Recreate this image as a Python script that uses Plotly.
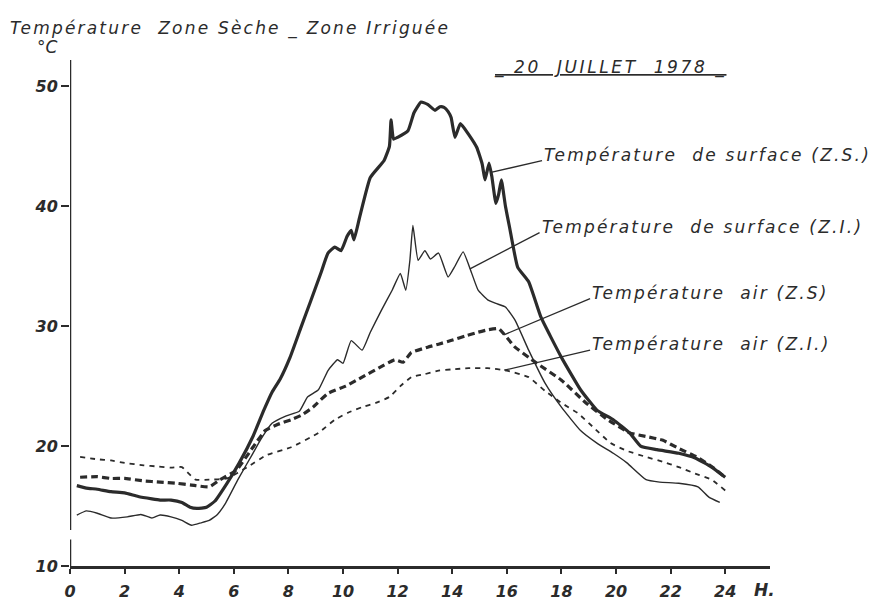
import numpy as np
import plotly.graph_objects as go

# --- data ---
hours_surf_zs = [0.25, 0.6, 1.0, 1.5, 2.0, 2.5, 3.0, 3.3, 3.7, 4.1, 4.4, 4.65, 5.0, 5.3, 5.75, 6.2,
                 6.7, 7.1, 7.4, 7.7, 8.06, 8.46, 8.8, 9.2, 9.45, 9.7, 9.93, 10.15, 10.3, 10.4, 10.6,
                 11.0, 11.5, 11.7, 11.76, 11.85, 12.0, 12.38, 12.6, 12.86, 13.1, 13.37, 13.55, 13.7,
                 13.85, 13.96, 14.1, 14.3, 14.6, 14.9, 15.1, 15.2, 15.35, 15.45, 15.6, 15.7, 15.8,
                 15.95, 16.1, 16.4, 16.8, 17.25, 18.0, 18.7, 19.3, 19.9, 20.5, 20.9, 21.5, 22.3,
                 22.9, 23.5, 24.0]
temp_surf_zs = [16.7, 16.5, 16.4, 16.2, 16.1, 15.8, 15.6, 15.5, 15.5, 15.3, 14.9, 14.8, 14.9, 15.4,
                16.9, 18.6, 20.8, 23.0, 24.5, 25.6, 27.4, 29.9, 32.0, 34.5, 36.1, 36.6, 36.3, 37.5,
                38.0, 37.2, 39.0, 42.4, 43.8, 45.0, 47.2, 45.6, 45.75, 46.3, 47.8, 48.7, 48.5,
                48.0, 48.3, 48.25, 47.9, 47.4, 45.75, 46.9, 46.0, 44.9, 43.5, 42.2, 43.6, 42.5,
                40.25, 41.0, 42.2, 40.0, 38.25, 34.9, 33.7, 30.75, 27.4, 24.7, 23.0, 22.2, 21.1,
                20.0, 19.7, 19.4, 19.0, 18.25, 17.4]

hours_surf_zi = [0.25, 0.6, 1.0, 1.5, 2.1, 2.6, 3.0, 3.3, 3.7, 4.1, 4.45, 4.8, 5.1, 5.4, 5.7, 6.15,
                 6.7, 7.0, 7.4, 7.9, 8.4, 8.7, 9.1, 9.45, 9.8, 10.0, 10.3, 10.7, 11.0, 11.4, 11.8,
                 12.1, 12.3, 12.45, 12.56, 12.75, 13.0, 13.2, 13.5, 13.85, 14.1, 14.4, 14.7, 14.95,
                 15.3, 15.6, 15.95, 16.3, 16.8, 17.4, 18.0, 18.7, 19.3, 19.9, 20.4, 21.1, 21.6,
                 22.3, 23.0, 23.4, 23.8]
temp_surf_zi = [14.25, 14.6, 14.4, 14.0, 14.1, 14.3, 14.0, 14.25, 14.1, 13.8, 13.4, 13.6, 13.8,
                14.3, 15.25, 17.2, 19.4, 20.6, 21.9, 22.5, 22.9, 24.1, 24.7, 26.3, 27.2, 26.9,
                28.8, 28.0, 29.5, 31.3, 33.0, 34.4, 33.0, 35.5, 38.4, 35.5, 36.3, 35.6, 36.1,
                34.1, 35.0, 36.2, 34.5, 33.0, 32.2, 31.9, 31.6, 30.5, 28.0, 25.25, 23.25, 21.3,
                20.25, 19.4, 18.6, 17.2, 17.0, 16.9, 16.6, 15.75, 15.3]

hours_air_zs = [0.37, 1.0, 1.5, 2.0, 2.7, 3.3, 3.9, 4.45, 5.1, 5.5, 6.1, 6.7, 7.15, 7.6, 8.1, 8.5,
                8.9, 9.45, 10.1, 10.7, 11.3, 11.9, 12.2, 12.5, 13.1, 13.5, 13.95, 14.5, 14.95,
                15.3, 15.7, 16.3, 16.8, 17.1, 18.0, 18.9, 19.7, 20.5, 21.1, 21.7, 22.3, 22.95,
                23.5, 24.0]
temp_air_zs = [17.4, 17.45, 17.3, 17.3, 17.1, 17.0, 16.9, 16.75, 16.6, 17.2, 18.0, 19.9, 21.3,
               21.8, 22.2, 22.6, 23.25, 24.4, 25.0, 25.75, 26.5, 27.2, 27.0, 27.8, 28.25, 28.5,
               28.8, 29.2, 29.5, 29.7, 29.8, 28.25, 27.4, 26.9, 25.5, 23.6, 22.2, 21.1, 20.8,
               20.5, 19.8, 19.1, 18.3, 17.4]

hours_air_zi = [0.37, 1.0, 1.5, 2.0, 2.7, 3.2, 3.7, 4.1, 4.35, 4.6, 5.1, 5.75, 6.5, 7.2, 8.1, 9.1,
                9.7, 10.2, 10.7, 11.2, 11.7, 12.1, 12.5, 13.0, 13.5, 14.0, 14.6, 15.3, 16.0, 16.8,
                17.4, 18.0, 18.6, 19.2, 19.8, 20.4, 21.1, 21.7, 22.3, 22.9, 23.5, 24.0]
temp_air_zi = [19.1, 18.9, 18.8, 18.6, 18.4, 18.3, 18.2, 18.25, 17.7, 17.2, 17.2, 17.3, 18.25,
               19.25, 19.9, 21.1, 22.2, 22.8, 23.25, 23.6, 24.1, 25.0, 25.75, 26.0, 26.3, 26.4,
               26.5, 26.5, 26.3, 25.75, 24.6, 23.6, 22.75, 21.5, 20.25, 19.6, 19.1, 18.7, 18.25,
               17.7, 17.2, 16.3]

x_ticks = list(range(0, 25, 2))
y_ticks = [10, 20, 30, 40, 50]

INK = '#2b2b2b'
FONT = 'DejaVu Sans'


def spaced(txt, px):
    # hand lettering on the original is widely spaced
    return f'<span style="letter-spacing:{px}px">{txt}</span>'


series = [
    # hours, temps, label, width, dash, leader start hour, leader end (h, T)
    (hours_surf_zs, temp_surf_zs, 'Température  de surface (Z.S.)', 3.2, 'solid', 15.42, (17.29, 43.8)),
    (hours_surf_zi, temp_surf_zi, 'Température  de surface (Z.I.)', 1.4, 'solid', 14.65, (17.2, 37.8)),
    (hours_air_zs, temp_air_zs, 'Température  air (Z.S)', 3.2, '7px,4px', 15.9, (19.05, 32.3)),
    (hours_air_zi, temp_air_zi, 'Température  air (Z.I.)', 1.8, '5px,5px', 15.9, (19.05, 28.0)),
]

fig = go.Figure()
shapes = []
annotations = []
for hrs, temps, label, w, dash, h0, (h1, t1) in series:
    fig.add_trace(go.Scatter(x=hrs, y=temps, mode='lines', name=label,
                             line=dict(color=INK, width=w, dash=dash, shape='spline', smoothing=0.4),
                             showlegend=False))
    t0 = float(np.interp(h0, hrs, temps))
    shapes.append(dict(type='line', xref='x', yref='y', x0=h0, y0=t0, x1=h1, y1=t1,
                       line=dict(color=INK, width=1.3)))
    annotations.append(dict(x=h1, y=t1, xref='x', yref='y', text=spaced(label, 2.2), showarrow=False,
                            xanchor='left', yanchor='middle', xshift=0, yshift=6,
                            font=dict(family=FONT, size=17, color=INK, style='italic')))

# y axis drawn by hand, broken just above 10
shapes.append(dict(type='line', xref='x', yref='y', x0=0, x1=0, y0=10, y1=12.2,
                   line=dict(color=INK, width=2.5)))
shapes.append(dict(type='line', xref='x', yref='y', x0=0, x1=0, y0=13.0, y1=52.2,
                   line=dict(color=INK, width=2.5)))

annotations += [
    dict(x=0, y=1.0, xref='paper', yref='paper', xshift=-62, yshift=32, showarrow=False,
         xanchor='left', yanchor='middle', text=spaced('Température  Zone Sèche _ Zone Irriguée', 2.2),
         font=dict(family=FONT, size=17, color=INK, style='italic')),
    dict(x=0, y=1.0, xref='paper', yref='paper', xshift=-35, yshift=13, showarrow=False,
         xanchor='left', yanchor='middle', text='°C',
         font=dict(family=FONT, size=17, color=INK, style='italic')),
    dict(x=15.46, y=1.0, xref='x', yref='paper', yshift=-7, showarrow=False,
         xanchor='left', yanchor='middle', text='<u>' + spaced('_ 20  JUILLET  1978 _', 2.6) + '</u>',
         font=dict(family=FONT, size=17, color=INK, style='italic')),
    dict(x=25.45, y=10, xref='x', yref='y', yshift=-24, showarrow=False,
         xanchor='center', yanchor='middle', text='H.',
         font=dict(family=FONT, size=17, color=INK, style='italic', weight='bold')),
]

fig.update_layout(
    width=875, height=599,
    margin=dict(l=62, r=113, t=52, b=41),
    paper_bgcolor='white', plot_bgcolor='white',
    font=dict(family=FONT, color=INK),
    shapes=shapes, annotations=annotations,
    xaxis=dict(range=[0, 25.64], tickvals=x_ticks, ticks='outside', ticklen=5, tickwidth=1.5,
               tickcolor=INK, showline=True, linecolor=INK, linewidth=3, showgrid=False,
               zeroline=False, automargin=False, ticklabelstandoff=4,
               tickfont=dict(family=FONT, size=16, color=INK, style='italic', weight='bold')),
    yaxis=dict(range=[10, 52.2], tickvals=y_ticks, ticks='outside', ticklen=8, tickwidth=2,
               tickcolor=INK, showline=False, showgrid=False, zeroline=False, automargin=False,
               tickfont=dict(family=FONT, size=16, color=INK, style='italic', weight='bold')),
)

fig.write_html("out.html")
